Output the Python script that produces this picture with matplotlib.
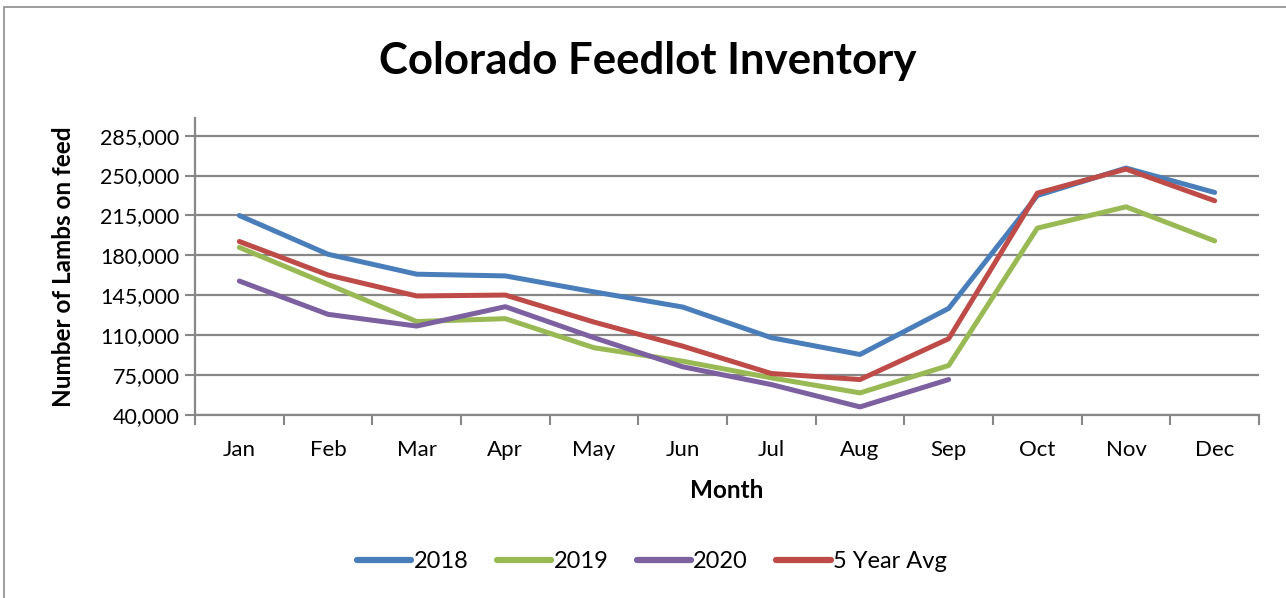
#!/usr/bin/env python3
'''Colorado feedlot inventory line chart'''
import matplotlib
matplotlib.use('Agg')
import matplotlib.pyplot as plt
from matplotlib.patches import Rectangle
from matplotlib.ticker import FuncFormatter

plt.rcParams['font.family'] = ['Lato', 'DejaVu Sans']

# data
months = ['Jan', 'Feb', 'Mar', 'Apr', 'May', 'Jun', 'Jul', 'Aug', 'Sep', 'Oct', 'Nov', 'Dec']
y2018 = [215000, 181000, 163500, 162000, 148000, 134700, 107800, 93100, 133500, 232500, 256600, 235200]
y2019 = [187000, 154600, 122000, 124500, 99000, 87200, 72600, 59400, 83400, 203900, 222600, 192700]
y2020 = [157500, 128300, 118000, 135000, 107800, 82300, 66700, 47100, 71100]
avg5 = [192200, 162800, 144400, 145200, 121500, 100400, 76400, 71100, 106900, 234600, 255700, 227900]
yticks = [40000, 75000, 110000, 145000, 180000, 215000, 250000, 285000]

series = [('2018', y2018, '#4A7EBB'),
          ('2019', y2019, '#98B954'),
          ('2020', y2020, '#7D60A0'),
          ('5 Year Avg', avg5, '#BE4B48')]

fig = plt.figure(figsize=(12.86, 5.98), dpi=100)
ax = fig.add_axes([195/1286, 1-415/598, (1259-195)/1286, (415-118)/598])

for name, vals, col in series:
    ax.plot(range(len(vals)), vals, color=col, lw=3.6, label=name,
            solid_capstyle='round', solid_joinstyle='round', zorder=3)

grey = '#878787'
ax.set_xlim(-0.5, 11.5)
ax.set_ylim(40000, 300500)
ax.set_yticks(yticks)
ax.yaxis.set_major_formatter(FuncFormatter(lambda v, p: f'{int(v):,}'))
ax.set_xticks(range(12))
ax.set_xticklabels(months)
ax.set_xticks([i - 0.5 for i in range(13)], minor=True)
ax.tick_params(axis='x', which='major', length=0, pad=18, labelsize=16)
ax.tick_params(axis='x', which='minor', length=7, width=1.5, color=grey)
ax.tick_params(axis='y', length=7, width=1.5, color=grey, labelsize=15.5, pad=4)
ax.grid(True, axis='y', color=grey, lw=1.6, zorder=1)
for s in ('top', 'right'):
    ax.spines[s].set_visible(False)
for s in ('left', 'bottom'):
    ax.spines[s].set_color(grey)
    ax.spines[s].set_linewidth(1.6)

ax.set_xlabel('Month', fontsize=17.5, fontweight='bold', labelpad=14)
ax.set_ylabel('Number of Lambs on feed', fontsize=17.5, fontweight='bold', labelpad=18)
fig.text(648/1286, 1-61/598, 'Colorado Feedlot Inventory', ha='center', va='center',
         fontsize=31.5, fontweight='bold')

fig.legend(loc='center', bbox_to_anchor=(652/1286, 1-562/598), ncol=4, frameon=False,
           fontsize=17, handlelength=2.3, handletextpad=0.1, columnspacing=1.2,
           handleheight=0.7)
for ln in fig.legends[0].get_lines():
    ln.set_linewidth(4.5)

# outer chart border
fig.patches.append(Rectangle((4/1286, -0.1), 1.2, 1.1 - 7.5/598, transform=fig.transFigure,
                             fill=False, edgecolor='#8c8c8c', lw=1.2))

fig.savefig('out.png', dpi=100)
